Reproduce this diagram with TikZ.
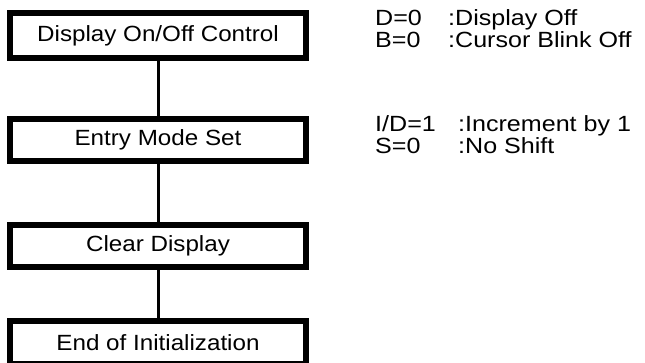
\documentclass[tikz,border=0pt]{standalone}
\usepackage{fontspec}
\setmainfont[FakeStretch=1.1]{Liberation Sans}
\newfontfamily\notefont[FakeStretch=1.14]{Liberation Sans}
\begin{document}
\begin{tikzpicture}[x=1pt,y=-1pt,
  stepbox/.style={draw=black,line width=6pt,fill=white,minimum width=296pt,inner sep=0pt,font=\fontsize{22}{24}\selectfont},
  link/.style={draw=black,line width=3pt},
  note/.style={anchor=base west,inner sep=0pt,font=\notefont\fontsize{22}{24}\selectfont}]
\useasboundingbox (0,0) rectangle (645,363);
\node[stepbox,minimum height=45pt] (b1) at (158,35.5) {Display On/Off Control};
\node[stepbox,minimum height=42pt] (b2) at (158,140) {Entry Mode Set};
\node[stepbox,minimum height=42pt] (b3) at (158,246) {Clear Display};
\node[stepbox,minimum height=43pt] (b4) at (158,342.5) {End of Initialization};
\draw[link] (b1.south) -- (b2.north);
\draw[link] (b2.south) -- (b3.north);
\draw[link] (b3.south) -- (b4.north);
\node[note] (d0) at (375,26) {D=0};
\node[note] (d0t) at (448,26) {:Display Off};
\node[note] (b0) at (375,48) {B=0};
\node[note] (b0t) at (448,48) {:Cursor Blink Off};
\node[note] (id) at (375,132) {I/D=1};
\node[note] (idt) at (458,132) {:Increment by 1};
\node[note] (s0) at (375,154) {S=0};
\node[note] (s0t) at (458,154) {:No Shift};
\end{tikzpicture}
\end{document}
